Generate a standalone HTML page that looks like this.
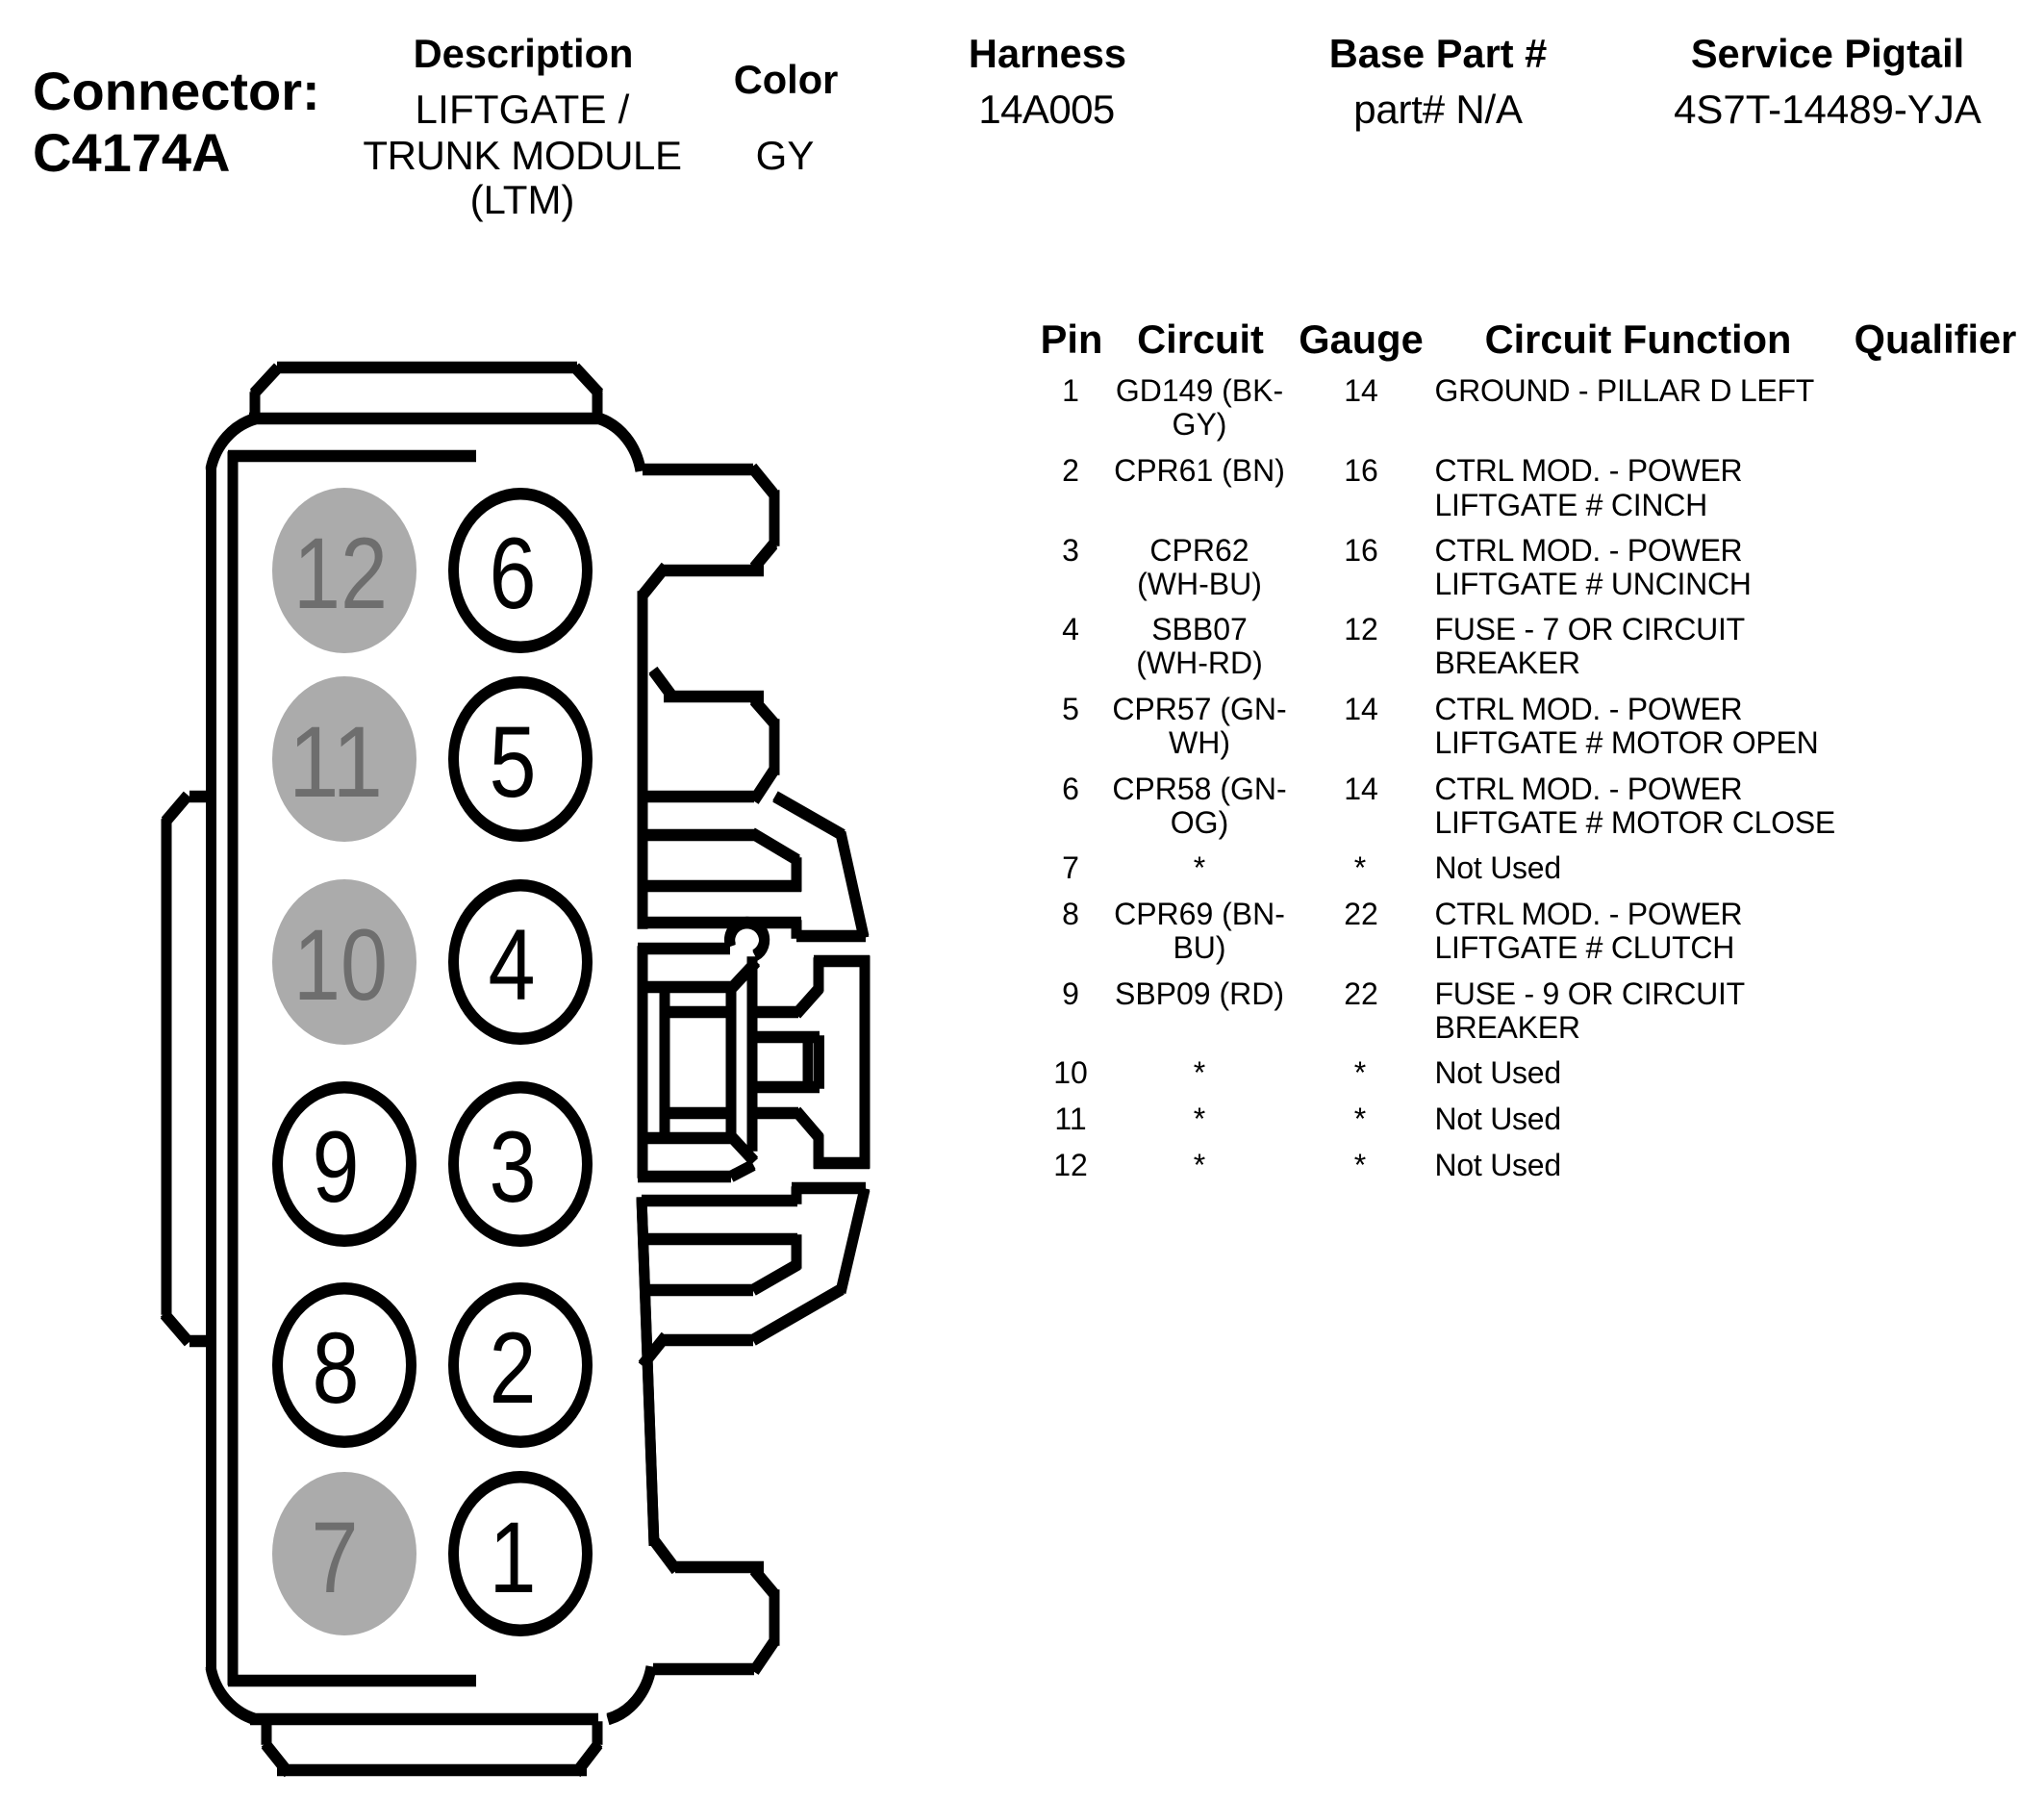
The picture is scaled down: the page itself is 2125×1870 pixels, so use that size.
<!DOCTYPE html>
<html lang="en"><head><meta charset="utf-8"><title>Connector C4174A</title>
<style>
html,body{margin:0;padding:0;background:#fff}
svg{display:block}
text{font-family:"Liberation Sans",Arial,sans-serif;fill:#000}
.b{font-weight:bold;font-size:41.6px}
.h{font-size:42px;text-anchor:middle}
.t{font-size:32px}
.f text{letter-spacing:-.25px}
.m{text-anchor:middle}
.d{font-size:105px;text-anchor:middle}
.g{fill:#6e6e6e}
</style></head><body>
<svg xmlns="http://www.w3.org/2000/svg" width="2125" height="1870" viewBox="0 0 2125 1870">
<rect width="2125" height="1870" fill="#fff"/>
<text x="34" y="114" style="font-weight:bold;font-size:56px">Connector:</text>
<text x="34" y="178" style="font-weight:bold;font-size:56px">C4174A</text>
<text class="b m" x="544" y="70">Description</text>
<text class="h" x="543" y="128" style="letter-spacing:.2px">LIFTGATE /</text>
<text class="h" x="543" y="176" style="letter-spacing:-.4px">TRUNK MODULE</text>
<text class="h" x="543" y="222">(LTM)</text>
<text class="b m" x="817" y="97">Color</text>
<text class="h" x="816" y="176">GY</text>
<text class="b m" x="1089" y="70">Harness</text>
<text class="h" x="1088" y="128" style="letter-spacing:-.6px">14A005</text>
<text class="b m" x="1495" y="70">Base Part #</text>
<text class="h" x="1495" y="128" style="letter-spacing:-.2px">part# N/A</text>
<text class="b m" x="1900" y="70">Service Pigtail</text>
<text class="h" x="1900" y="128">4S7T-14489-YJA</text>

<g id="lines" fill="none" stroke="#000" stroke-width="11" transform="translate(0,-.8)">
<path d="M264 409L289 382M288 382H600M598 382L623 409M265 408V432M621 408V432"/>
<path d="M219 488A65 70 0 0 1 266 435M259 435H625M623 435A62 70 0 0 1 666 489"/>
<path d="M219.500 487V1735M242 470V1751M237 474H495M237 1747H495"/>
<path d="M668 488H783M782 486L804 513M805 510V567M804 566L784 590M690 593H794M692 589L667 620"/>
<path d="M668 615V965M679 697L699 724M690 724H794M784 728L805 752M805 748V805M805 800L784 832M668 828H784"/>
<path d="M806 828L876 868M874 866L898 974M828 973H900M828 957V975M663 959H833"/>
<path d="M668 868H784M782 866L829 894M828 892V926M668 921H833"/>
<path d="M668 984V1224M663 986H759M668 1026H763M668 1183H763M663 1223H760M691 1021V1188M691 1052H763M691 1157H763"/>
<path d="M760 1021V1188M759 1029L786 1000M782 995V1196M759.600 983A18 18 0 1 1 785 993"/>
<path d="M759 1180L784 1207M760 1223L783 1211"/>
<path d="M782 1052H830M828 1054L852 1027M851 1030V996M846 999H904M899 994V1214M846 1209H904M851 1214V1180M852 1183L828 1155M782 1157H830"/>
<path d="M782 1078H852M782 1130H852M840 1073V1135M851.500 1077V1131"/>
<path d="M667 1248H829M828 1251V1234M823 1235H900M899 1236L874 1343M875 1340L783 1393M783 1393H690M692 1389L668 1419"/>
<path d="M668 1288H829M828 1284V1318M830 1314L783 1341M783 1341H670"/>
<path d="M667 1245L680 1606M679 1600L703 1632M702 1629H794M784 1632L805 1657M805 1653V1710M805 1706L784 1737M784 1735H679"/>
<path d="M677 1733A60 70 0 0 1 632 1787M219 1733A65 70 0 0 0 265 1787M260 1787H622"/>
<path d="M277 1790V1813M621 1790V1813M276 1813L300 1843M288 1840H610M622 1813L599 1843"/>
<path d="M219 828H197M195 827L172 854M173 852V1366M171 1366L196 1395M197 1394H219"/>
</g>
<use href="#lines" transform="translate(0,1.6)"/>
<g fill="#ababab">
<ellipse cx="358" cy="593" rx="75" ry="86"/><ellipse cx="358" cy="789" rx="75" ry="86"/><ellipse cx="358" cy="1000" rx="75" ry="86"/><ellipse cx="358" cy="1615" rx="75" ry="85"/>
</g>
<g fill="#000">
<ellipse cx="541" cy="593" rx="75" ry="86"/><ellipse cx="541" cy="789" rx="75" ry="86"/><ellipse cx="541" cy="1000" rx="75" ry="86"/><ellipse cx="541" cy="1210" rx="75" ry="86"/><ellipse cx="541" cy="1419" rx="75" ry="86"/><ellipse cx="541" cy="1615" rx="75" ry="86"/>
<ellipse cx="358" cy="1210" rx="75" ry="86"/><ellipse cx="358" cy="1419" rx="75" ry="86"/>
</g>
<g fill="#fff">
<ellipse cx="541" cy="593" rx="64" ry="73.500"/><ellipse cx="541" cy="789" rx="64" ry="73.500"/><ellipse cx="541" cy="1000" rx="64" ry="73.500"/><ellipse cx="541" cy="1210" rx="64" ry="73.500"/><ellipse cx="541" cy="1419" rx="64" ry="73.500"/><ellipse cx="541" cy="1615" rx="64" ry="73.500"/>
<ellipse cx="358" cy="1210" rx="64" ry="73.500"/><ellipse cx="358" cy="1419" rx="64" ry="73.500"/>
</g>
<text class="d g" x="354" y="632" textLength="98" lengthAdjust="spacingAndGlyphs">12</text><text class="d g" x="349" y="828" textLength="98" lengthAdjust="spacingAndGlyphs">11</text><text class="d g" x="354" y="1039" textLength="98" lengthAdjust="spacingAndGlyphs">10</text><text class="d g" x="348" y="1655" textLength="49" lengthAdjust="spacingAndGlyphs">7</text>
<text class="d" x="533" y="632" textLength="49" lengthAdjust="spacingAndGlyphs">6</text><text class="d" x="533" y="828" textLength="49" lengthAdjust="spacingAndGlyphs">5</text><text class="d" x="532" y="1039" textLength="49" lengthAdjust="spacingAndGlyphs">4</text><text class="d" x="533" y="1249" textLength="49" lengthAdjust="spacingAndGlyphs">3</text><text class="d" x="533" y="1458" textLength="49" lengthAdjust="spacingAndGlyphs">2</text><text class="d" x="533" y="1655" textLength="49" lengthAdjust="spacingAndGlyphs">1</text>
<text class="d" x="349" y="1249" textLength="49" lengthAdjust="spacingAndGlyphs">9</text><text class="d" x="349" y="1458" textLength="49" lengthAdjust="spacingAndGlyphs">8</text>

<g style="text-anchor:middle">
<text class="b" x="1114" y="367">Pin</text><text class="b" x="1248" y="367">Circuit</text><text class="b" x="1415" y="367">Gauge</text><text class="b" x="1703" y="367">Circuit Function</text><text class="b" x="2012" y="367">Qualifier</text>
</g>
<g class="t" style="text-anchor:middle">
<text x="1113" y="417">1</text><text x="1113" y="500">2</text><text x="1113" y="583">3</text><text x="1113" y="665">4</text><text x="1113" y="748">5</text><text x="1113" y="831">6</text><text x="1113" y="913">7</text><text x="1113" y="961">8</text><text x="1113" y="1044">9</text><text x="1113" y="1126">10</text><text x="1113" y="1174">11</text><text x="1113" y="1222">12</text>
<text x="1247" y="417">GD149 (BK-</text><text x="1247" y="452">GY)</text>
<text x="1247" y="500">CPR61 (BN)</text>
<text x="1247" y="583">CPR62</text><text x="1247" y="618">(WH-BU)</text>
<text x="1247" y="665">SBB07</text><text x="1247" y="700">(WH-RD)</text>
<text x="1247" y="748">CPR57 (GN-</text><text x="1247" y="783">WH)</text>
<text x="1247" y="831">CPR58 (GN-</text><text x="1247" y="866">OG)</text>
<text x="1247" y="913">*</text>
<text x="1247" y="961">CPR69 (BN-</text><text x="1247" y="996">BU)</text>
<text x="1247" y="1044">SBP09 (RD)</text>
<text x="1247" y="1126">*</text><text x="1247" y="1174">*</text><text x="1247" y="1222">*</text>
<text x="1415" y="417">14</text><text x="1415" y="500">16</text><text x="1415" y="583">16</text><text x="1415" y="665">12</text><text x="1415" y="748">14</text><text x="1415" y="831">14</text><text x="1414" y="913">*</text><text x="1415" y="961">22</text><text x="1415" y="1044">22</text><text x="1414" y="1126">*</text><text x="1414" y="1174">*</text><text x="1414" y="1222">*</text>
</g>
<g class="t f">
<text x="1491.500" y="417">GROUND - PILLAR D LEFT</text>
<text x="1491.500" y="500">CTRL MOD. - POWER</text><text x="1491.500" y="536">LIFTGATE # CINCH</text>
<text x="1491.500" y="583">CTRL MOD. - POWER</text><text x="1491.500" y="618">LIFTGATE # UNCINCH</text>
<text x="1491.500" y="665">FUSE - 7 OR CIRCUIT</text><text x="1491.500" y="700">BREAKER</text>
<text x="1491.500" y="748">CTRL MOD. - POWER</text><text x="1491.500" y="783">LIFTGATE # MOTOR OPEN</text>
<text x="1491.500" y="831">CTRL MOD. - POWER</text><text x="1491.500" y="866">LIFTGATE # MOTOR CLOSE</text>
<text x="1491.500" y="913">Not Used</text>
<text x="1491.500" y="961">CTRL MOD. - POWER</text><text x="1491.500" y="996">LIFTGATE # CLUTCH</text>
<text x="1491.500" y="1044">FUSE - 9 OR CIRCUIT</text><text x="1491.500" y="1079">BREAKER</text>
<text x="1491.500" y="1126">Not Used</text><text x="1491.500" y="1174">Not Used</text><text x="1491.500" y="1222">Not Used</text>
</g>
</svg>
</body></html>
